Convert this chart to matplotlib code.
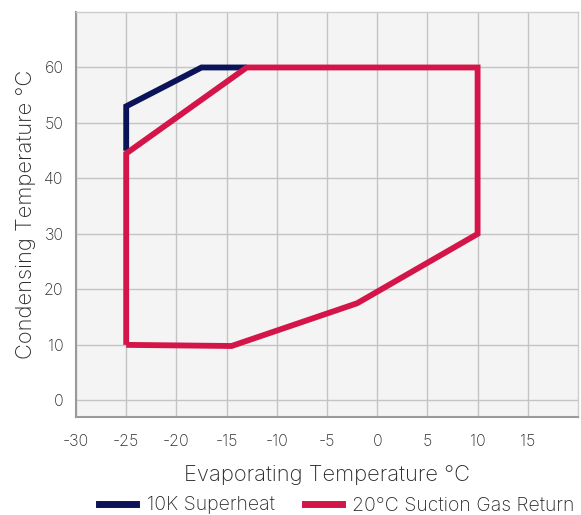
import matplotlib
matplotlib.use("Agg")
import matplotlib.pyplot as plt
from matplotlib.lines import Line2D

plt.rcParams['font.family'] = ['Inter', 'DejaVu Sans']
plt.rcParams['axes.unicode_minus'] = False

series_names = ["10K Superheat", "20°C Suction Gas Return"]
sh_x = [-25, -25, -17.5, -13]
sh_y = [45, 53, 60, 60]
sg_x = [-25, -25, -13, 10, 10, -2, -14.5, -25]
sg_y = [10, 44.5, 60, 60, 30, 17.5, 9.8, 10]
x_ticks = [-30, -25, -20, -15, -10, -5, 0, 5, 10, 15]
y_ticks = [0, 10, 20, 30, 40, 50, 60]

navy = "#0b1459"
red = "#d41549"
text_c = "#2a2a2a"

fig = plt.figure(figsize=(5.81, 5.15), dpi=100)
ax = fig.add_axes([76/581, 1 - 417/515, (578-76)/581, (417-12)/515])
ax.set_facecolor("#f4f4f4")
ax.set_xlim(-30, 20)
ax.set_ylim(-3, 70)
ax.set_xticks(x_ticks)
ax.set_yticks(y_ticks)
ax.grid(True, color="#c4c4c4", linewidth=1.0)
ax.set_axisbelow(True)
ax.tick_params(length=0, labelsize=11.5, colors=text_c)
ax.tick_params(axis="x", pad=12)
ax.tick_params(axis="y", pad=9)
for lab in ax.get_xticklabels() + ax.get_yticklabels():
    lab.set_fontweight("light")
for s in ["top", "right"]:
    ax.spines[s].set_color("#cccccc")
    ax.spines[s].set_linewidth(1.0)
for s in ["left", "bottom"]:
    ax.spines[s].set_color("#9a9a9a")
    ax.spines[s].set_linewidth(1.5)

ax.plot(sh_x, sh_y, color=navy, lw=4.2, solid_joinstyle="miter", solid_capstyle="butt", zorder=3)
ax.plot(sg_x, sg_y, color=red, lw=4.2, solid_joinstyle="miter", solid_capstyle="butt", zorder=4)

ax.set_xlabel("Evaporating Temperature °C", fontsize=15.8, color=text_c, labelpad=12, fontweight="light")
ax.set_ylabel("Condensing Temperature °C", fontsize=15.8, color=text_c, labelpad=6, fontweight="light")

handles = [Line2D([0], [0], color=navy, lw=5), Line2D([0], [0], color=red, lw=5)]
fig.legend(handles, series_names, loc="center", bbox_to_anchor=(337/581, 1 - 505.5/515),
           ncol=2, frameon=False, handlelength=1.9, columnspacing=1.55,
           handletextpad=0.55, labelcolor=text_c, prop={"weight": "light", "size": 14})

fig.savefig("out.png", dpi=100)
